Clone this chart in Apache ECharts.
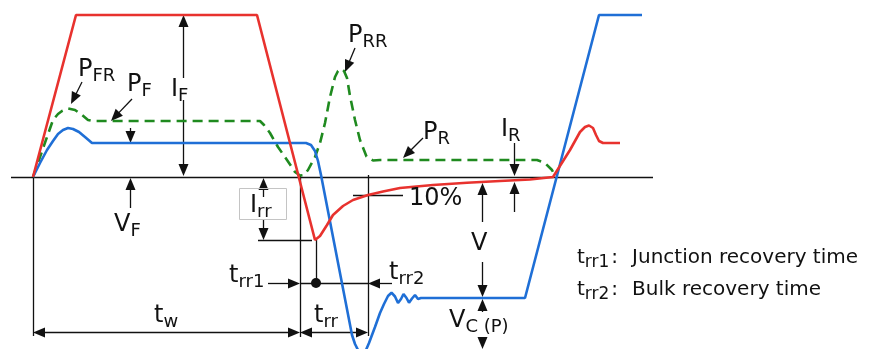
<!DOCTYPE html>
<html><head><meta charset="utf-8">
<script src="https://cdn.jsdelivr.net/npm/echarts@6/dist/echarts.min.js"></script>
<style>html,body{margin:0;padding:0;background:#fff}#c{width:873px;height:349px}</style>
</head><body><div id="c"></div>
<script>
// ---- waveform values (x: time units, y: amplitude units, 0 = zero line) ----
const currentI = [[33,0],[76,162],[257,162],[315,-63],[320,-59],[327,-48],[333,-38],[343,-29],[353,-23],[368,-18],[383,-14.5],[400,-11],[433,-8],[467,-5.7],[500,-4],[530,-2.5],[553,0],[570,27],[580,45],[585,50],[589,51.5],[593,49],[596,42],[599,36],[603,34],[620,34]];
const voltageV = [[33,0],[40,14],[47,27],[53,36],[58,43],[63,47],[68,49],[73,48],[79,45],[85,40],[92,34],[306,34],[311,32],[315,26],[318,16],[321,2],[352,-158],[355,-167],[358,-173],[362,-176],[366,-173],[369,-166],[375,-150],[380,-136],[384,-127],[388,-119],[391.5,-115.7],[395,-119.5],[398,-126],[401,-122],[403.5,-117],[406.5,-121],[409,-125.7],[412,-121.5],[415,-118],[418,-122],[421,-121],[525,-121],[599,162],[642,162]];
const powerP = [[33,0],[40,20],[47,40],[53,57],[58,63],[62,66],[68,68.5],[75,67],[82,62],[88,57],[93,56],[260,56],[264,52],[270,44],[278,30],[287,17],[295,5],[300,1.5],[304,2],[308,7],[315,20],[320,34],[325,54],[330,80],[335,100],[338,106],[341.5,108],[344,106],[347,99],[350,81],[355,57],[360,37],[366.5,20.5],[373,16.5],[380,17],[537,17],[545,14],[552,7],[555,1]];

// ---- annotation geometry: [x1, y1, x2, y2, heads] heads: 0 none, 1 at end, 2 at start, 3 both ----
const zeroLine = [[11,0,653,0,0]];
const guideLines = [[33,0,33,-159,0],[300,2,300,-160,0],[368,2,368,-159,0],[316,-63,316,-106,0],[258,-63,312,-63,0],[300,-106,368,-106,0],[353,-18,403,-18,0]];
const arrowLines = [
  [183,99,183,162,1],[183,77,183,1,1],
  [130,49,130,34,1],[130,-31,130,-1,1],
  [263,-20,263,-1,1],[263,-42,263,-63,1],
  [268,-106,300,-106,1],[392,-106,368,-106,1],
  [33,-155,300,-155,3],[300,-155,368,-155,3],
  [82,95,71,73,1],[132,78,111,56,1],[355,129,345,105,1],[423,39,403,19,1],
  [514,34,514,1,1],[514,-35,514,-5,1],
  [482,-45,482,-6,1],[482,-85,482,-120,1],
  [482,-135,482,-122,1],[482,-161,482,-172,1]
];
const dots = [[316,-106]];
const boxes = [[239,-11,286,-42]];

// ---- texts ----
const labelTexts = [
  '{m|P}{s|FR}','{m|P}{s|F}','{m|I}{s|F}','{m|V}{s|F}','{m|I}{s|rr}',
  '{m|t}{s|rr1}','{m|t}{s|rr2}','{m|t}{s|w}','{m|t}{s|rr}','{m|10%}',
  '{m|P}{s|RR}','{m|P}{s|R}','{m|I}{s|R}','{m|V}','{m|V}{s|C (P)}',
  '{lm|t}{ls|rr1}{lc|:}{lm|Junction recovery time}',
  '{lm|t}{ls|rr2}{lc|:}{lm|Bulk recovery time}'
];
const labelAnchors = [[78,106],[127,91],[171,86],[114,-49],[250,-30],[229,-100],[389,-97],[154,-140],[314,-140],[409,-23],[348,140],[423,43],[501,46],[471,-68],[449,-145],[577,-81.5],[577,-113.5]];

const FONT = '"DejaVu Sans", Verdana, sans-serif';
const INK = '#111';
const RICH = {
  m: {fontSize: 24, lineHeight: 26, fontFamily: FONT, fill: INK, verticalAlign: 'top'},
  s: {fontSize: 18, lineHeight: 20, padding: [9,0,0,0], fontFamily: FONT, fill: INK, verticalAlign: 'top'},
  lm: {fontSize: 20, lineHeight: 22, fontFamily: FONT, fill: INK, verticalAlign: 'top'},
  ls: {fontSize: 17, lineHeight: 18, padding: [7,0,0,0], fontFamily: FONT, fill: INK, verticalAlign: 'top'},
  lc: {fontSize: 20, lineHeight: 22, padding: [0,14,0,2], fontFamily: FONT, fill: INK, verticalAlign: 'top'}
};

function snap(v) { return Math.round(v - 0.5) + 0.5; }

function segItem(params, api) {
  const a = api.coord([api.value(0), api.value(1)]);
  const b = api.coord([api.value(2), api.value(3)]);
  const h = api.value(4);
  if (Math.abs(a[0]-b[0]) < 0.01) { a[0] = b[0] = snap(a[0]); }
  if (Math.abs(a[1]-b[1]) < 0.01) { a[1] = b[1] = snap(a[1]); }
  const dx = b[0]-a[0], dy = b[1]-a[1];
  const len = Math.hypot(dx, dy) || 1;
  const ux = dx/len, uy = dy/len;
  const HL = 12, HW = 5;
  const kids = [];
  let s = a.slice(), e = b.slice();
  function head(tip, vx, vy) {
    const bx = tip[0]-vx*HL, by = tip[1]-vy*HL;
    return {type:'polygon', shape:{points:[[tip[0],tip[1]],[bx-vy*HW, by+vx*HW],[bx+vy*HW, by-vx*HW]]}, style:{fill:INK}};
  }
  if (h & 1) { kids.push(head(b, ux, uy)); e = [b[0]-ux*HL*0.7, b[1]-uy*HL*0.7]; }
  if (h & 2) { kids.push(head(a, -ux, -uy)); s = [a[0]+ux*HL*0.7, a[1]+uy*HL*0.7]; }
  kids.unshift({type:'line', shape:{x1:s[0], y1:s[1], x2:e[0], y2:e[1]}, style:{stroke:INK, lineWidth:1.3}});
  return {type:'group', children:kids};
}

const chart = echarts.init(document.getElementById('c'), null, {renderer:'canvas'});
chart.setOption({
  animation: false,
  backgroundColor: '#fff',
  grid: {left:0, right:0, top:0, bottom:0, containLabel:false},
  xAxis: {type:'value', min:0, max:873, show:false},
  yAxis: {type:'value', min:-172, max:177, show:false},
  series: [
    {type:'custom', name:'lines', coordinateSystem:'cartesian2d', clip:false, z:1, silent:true,
     data: zeroLine.concat(guideLines, arrowLines), renderItem: segItem},
    {type:'custom', name:'box', coordinateSystem:'cartesian2d', clip:false, z:1, silent:true, data: boxes,
     renderItem: function(p, api){
       const a = api.coord([api.value(0), api.value(1)]), b = api.coord([api.value(2), api.value(3)]);
       return {type:'rect', shape:{x:snap(a[0]), y:snap(a[1]), width:Math.round(b[0]-a[0]), height:Math.round(b[1]-a[1])}, style:{fill:'none', stroke:'#c4c4c4', lineWidth:1}};
     }},
    {type:'custom', name:'dot', coordinateSystem:'cartesian2d', clip:false, z:5, silent:true, data: dots,
     renderItem: function(p, api){
       const c = api.coord([api.value(0), api.value(1)]);
       return {type:'circle', shape:{cx:c[0], cy:c[1], r:5}, style:{fill:INK}};
     }},
    {type:'line', name:'P', data: powerP, showSymbol:false, symbol:'none', z:2, silent:true,
     lineStyle:{color:'#1f8a1f', width:2.6, type:[10,6]}},
    {type:'line', name:'V', data: voltageV, showSymbol:false, symbol:'none', z:3, silent:true,
     lineStyle:{color:'#1f6fd6', width:2.6}},
    {type:'line', name:'I', data: currentI, showSymbol:false, symbol:'none', z:4, silent:true,
     lineStyle:{color:'#e8322e', width:2.6}},
    {type:'custom', name:'labels', coordinateSystem:'cartesian2d', clip:false, z:10, silent:true, data: labelAnchors,
     renderItem: function(p, api){
       const c = api.coord([api.value(0), api.value(1)]);
       return {type:'text', x:c[0], y:c[1], style:{text: labelTexts[p.dataIndex], rich: RICH, fill: INK,
         fontFamily: FONT, fontSize: 24, align:'left', verticalAlign:'middle'}};
     }}
  ]
});
</script></body></html>
